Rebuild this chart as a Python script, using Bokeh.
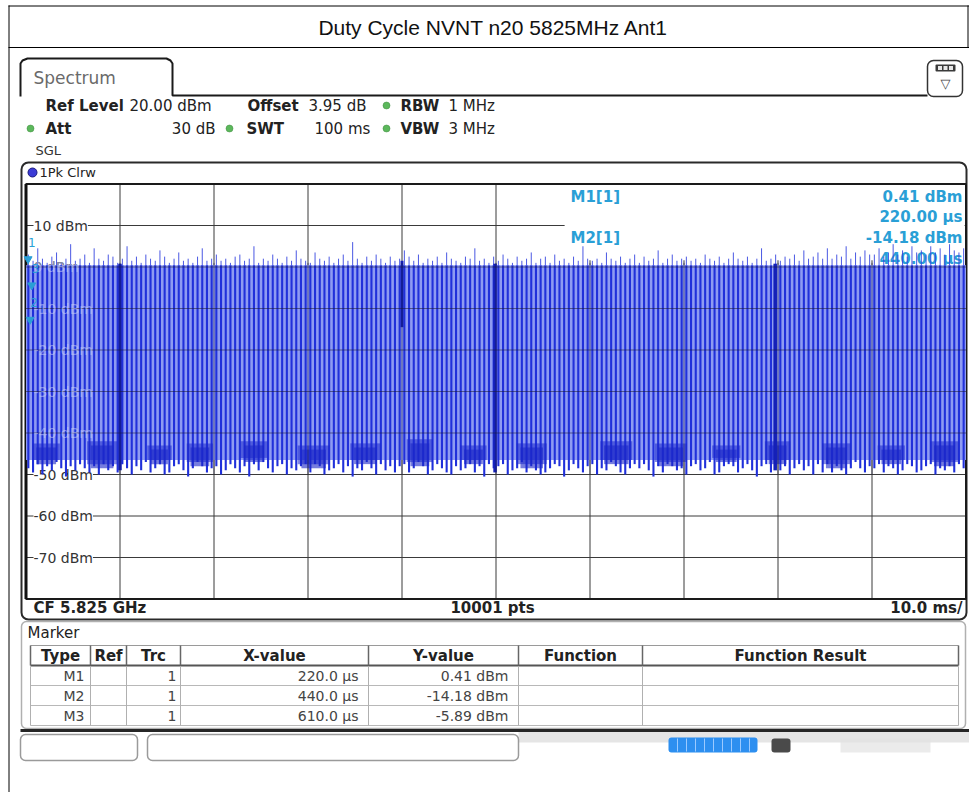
import numpy as np
from bokeh.plotting import figure
from bokeh.models import Range1d
from bokeh.core.properties import value
from bokeh.embed import file_html
from bokeh.resources import INLINE

# ------------------------------------------------------------------ data
title_text = "Duty Cycle NVNT n20 5825MHz Ant1"

x_ticks_ms = [0, 10, 20, 30, 40, 50, 60, 70, 80, 90, 100]
y_ticks_dbm = [20, 10, 0, -10, -20, -30, -40, -50, -60, -70, -80]
y_label_dbm = [10, 0, -10, -20, -30, -40, -50, -60, -70]
covered_label_dbm = [0, -10, -20, -30, -40]

# peak level of each burst (200 bursts over the 100 ms sweep)
pulse_top_dbm = [
    3.0, 1.5, 4.5, 2.0, 1.0, 2.5, 3.5, 1.0, 2.0, 5.5,
    1.5, 2.0, 3.0, 1.0, 4.5, 2.0, 1.5, 3.0, 2.5, 1.0,
    2.0, 5.0, 1.5, 2.5, 1.0, 3.0, 2.0, 1.5, 4.0, 2.5,
    1.0, 2.0, 3.5, 1.5, 2.0, 1.0, 2.5, 4.5, 1.5, 2.0,
    3.0, 1.5, 2.0, 1.0, 2.5, 3.0, 1.5, 2.0, 5.0, 1.0,
    2.0, 1.5, 3.0, 2.0, 1.0, 2.5, 1.5, 4.0, 2.0, 1.5,
    1.0, 3.5, 2.0, 1.5, 2.5, 1.0, 2.0, 3.0, 1.5, 6.0,
    2.0, 1.0, 2.5, 1.5, 3.0, 2.0, 1.0, 2.5, 1.5, 2.0,
    4.0, 2.5, 1.5, 3.0, 1.0, 2.0, 1.5, 2.5, 1.0, 3.5,
    2.0, 1.5, 1.0, 2.5, 2.0, 4.5, 1.5, 2.0, 1.0, 2.5,
    1.5, 3.0, 2.0, 1.0, 2.5, 1.5, 2.0, 3.5, 1.0, 2.0,
    2.5, 1.0, 3.0, 1.5, 2.0, 1.0, 2.5, 1.5, 5.0, 2.0,
    1.5, 2.0, 1.0, 3.5, 2.0, 1.5, 2.5, 1.0, 2.0, 3.0,
    1.0, 2.5, 1.5, 2.0, 4.0, 1.0, 2.0, 3.0, 1.5, 2.0,
    2.5, 1.5, 2.0, 1.0, 3.0, 2.0, 1.5, 2.5, 1.0, 2.0,
    3.5, 2.0, 1.5, 2.5, 1.0, 2.0, 4.5, 1.5, 2.0, 3.0,
    1.5, 2.5, 2.0, 3.0, 1.5, 4.0, 2.0, 2.5, 3.5, 2.0,
    4.5, 2.0, 3.0, 2.5, 5.0, 2.0, 3.5, 2.5, 4.0, 3.0,
    3.0, 4.5, 2.5, 3.5, 5.5, 3.0, 4.0, 2.5, 5.0, 3.5,
    4.0, 3.0, 5.0, 3.5, 4.5, 3.0, 5.5, 4.0, 3.5, 4.5,
]
# lowest level reached between bursts
pulse_bottom_dbm = [
    -48.5, -49.5, -47.5, -50.0, -48.0, -49.0, -47.0, -48.5, -50.5, -48.0,
    -49.0, -47.5, -48.5, -49.5, -48.0, -50.0, -47.5, -49.0, -48.0, -49.5,
    -47.5, -48.5, -50.0, -48.0, -49.0, -47.0, -49.5, -48.5, -47.5, -50.0,
    -49.5, -48.0, -47.5, -49.0, -50.5, -48.5, -47.0, -48.0, -49.5, -48.5,
    -48.0, -50.0, -49.0, -47.5, -48.5, -49.5, -48.0, -50.5, -47.5, -49.0,
    -47.0, -48.5, -49.5, -48.0, -47.5, -50.0, -48.5, -49.0, -48.0, -47.5,
    -49.5, -47.5, -48.0, -50.0, -49.0, -48.5, -47.5, -49.5, -48.0, -50.5,
    -48.5, -49.0, -47.0, -48.5, -50.0, -47.5, -49.0, -48.0, -49.5, -48.0,
    -47.5, -49.5, -48.5, -47.0, -48.0, -50.0, -49.0, -47.5, -48.5, -49.5,
    -50.0, -48.0, -49.0, -48.5, -47.5, -49.5, -48.0, -50.5, -47.5, -48.5,
    -48.0, -47.5, -50.0, -49.0, -48.5, -47.0, -49.5, -48.0, -49.0, -50.0,
    -49.5, -48.5, -47.5, -48.0, -50.5, -49.0, -47.5, -48.5, -49.5, -48.0,
    -47.5, -50.0, -48.5, -49.0, -47.0, -48.0, -49.5, -50.0, -48.5, -47.5,
    -48.5, -47.5, -49.0, -50.5, -48.0, -49.5, -47.5, -48.0, -49.0, -48.5,
    -50.0, -48.0, -47.5, -49.0, -48.5, -47.0, -50.0, -49.5, -48.0, -47.5,
    -48.0, -49.5, -48.5, -47.5, -49.0, -50.5, -48.0, -47.5, -49.5, -48.5,
    -49.0, -48.0, -50.0, -48.5, -47.5, -49.0, -48.0, -50.0, -47.5, -49.5,
    -47.5, -49.5, -48.0, -49.0, -50.0, -48.5, -47.0, -48.5, -49.5, -48.0,
    -48.5, -47.5, -49.5, -48.0, -48.5, -50.0, -49.0, -47.5, -48.0, -49.5,
    -49.0, -48.0, -47.5, -50.0, -48.5, -49.0, -48.0, -49.5, -47.5, -48.5,
]
band_ms = [0.0, 100.0]
band_top_dbm = [0.4, 0.4]
band_bottom_dbm = [-46.5, -46.5]

# missing bursts (dark full-height lines) and a short dip
gap_ms = [10.0, 49.9, 79.7]
gap_top_dbm = [0.8, 0.8, 0.8]
gap_bottom_dbm = [-49.0, -49.5, -49.0]
dip_ms = [40.0]
dip_top_dbm = [1.5]
dip_bottom_dbm = [-14.5]

# noise floor clusters between bursts (two layers give a ragged outline)
blob_start_ms = [0.7, 6.5, 12.9, 17.1, 22.8, 28.9, 34.5, 40.5, 46.2, 52.2,
                 61.1, 66.9, 73.0, 78.6, 84.7, 90.6, 96.2]
blob_end_ms = [3.6, 9.7, 15.5, 19.9, 25.7, 32.3, 37.7, 43.3, 49.0, 55.4,
               64.5, 70.3, 76.0, 81.3, 87.7, 93.5, 99.2]
blob_top_dbm = [-42.5, -42.0, -43.0, -42.5, -42.0, -43.0, -42.5, -41.5, -43.0, -42.5,
                -42.0, -42.5, -43.0, -42.0, -42.5, -43.0, -42.0]
blob_bottom_dbm = [-46.5, -47.5, -46.5, -47.0, -46.0, -47.5, -46.5, -47.0, -46.5, -47.5,
                   -46.5, -47.0, -46.0, -46.5, -47.5, -46.5, -47.0]
blob_core_top_dbm = [-43.5, -43.0, -44.0, -43.5, -43.0, -44.0, -43.5, -42.5, -44.0, -43.5,
                     -43.0, -43.5, -44.0, -43.0, -43.5, -44.0, -43.0]
blob_core_bottom_dbm = [-47.5, -48.5, -47.5, -48.0, -47.0, -48.5, -47.5, -48.0, -47.5, -48.5,
                        -47.5, -48.0, -47.0, -47.5, -48.5, -47.5, -48.0]

marker_names = ["M1", "M2", "M3"]
marker_trace = ["1", "1", "1"]
marker_x_us = [220.0, 440.0, 610.0]
marker_y_dbm = [0.41, -14.18, -5.89]

table_headers = ["Type", "Ref", "Trc", "X-value", "Y-value", "Function", "Function Result"]

# ------------------------------------------------------------------ layout
W, H = 969, 792
OX, OY = 0, 0

GL, GR = 25.5 - OX, 965.5 - OX     # grid frame, canvas px
GT, GB = 183.5 - OY, 598.5 - OY
ppm = (GR - GL) / 100.0
ppd = (GB - GT) / 100.0

p = figure(width=W, height=H, x_range=Range1d(0, W), y_range=Range1d(H, 0),
           output_backend="svg", toolbar_location=None, tools="",
           x_axis_location=None, y_axis_location=None, min_border=0,
           outline_line_color=None, background_fill_color="white",
           border_fill_color="white")
p.grid.grid_line_color = None
p.grid.visible = False
p.extra_x_ranges = {"ms": Range1d(-GL / ppm, 100 + (W - GR) / ppm)}
p.extra_y_ranges = {"dbm": Range1d(-80 - (H - GB) / ppd, 20 + GT / ppd)}
S = dict(x_range_name="ms", y_range_name="dbm")

DJ = value("DejaVu Sans")


def T(x, y, s, size=14, bold=False, color="#222222", align="left", font=DJ):
    p.text(x=[x - OX], y=[y - OY], text=[s], text_font=font,
           text_font_size=f"{size}px", text_font_style="bold" if bold else "normal",
           text_color=color, text_align=align, text_baseline="middle")


def L(xs, ys, color="#222222", width=1.0, alpha=1.0):
    p.line(x=[v - OX for v in xs], y=[v - OY for v in ys], line_color=color,
           line_width=width, line_alpha=alpha)


def Q(l, r, t, b, fill=None, line=None, width=1.0, radius=0, alpha=1.0):
    p.quad(left=[l - OX], right=[r - OX], top=[t - OY], bottom=[b - OY],
           fill_color=fill, line_color=line, line_width=width,
           border_radius=radius, fill_alpha=alpha)


# outer document frame and title
L([8.5, 8.5], [5, 792], "#000000", 1)
L([8, 969], [5.5, 5.5], "#000000", 1)
L([8, 969], [47, 47], "#000000", 1)
L([967.5, 967.5], [5, 47], "#000000", 1)
T(493, 27, title_text, size=21, color="#111111", align="center",
  font=value("Liberation Sans"))

# Spectrum tab
L([20, 20, 22, 27, 166, 170, 172, 172, 927],
  [96, 63, 60, 58, 58, 60, 63, 95, 95], "#1a1a1a", 2)
T(33, 77, "Spectrum", size=17, color="#6a6a6a")
Q(927, 962, 60, 96, fill="white", line="#333333", width=1.5, radius=6)
Q(935, 955, 64, 71, fill="#3a3a3a", line=None, radius=1)
for bx in (937.5, 943, 948.5):
    Q(bx, bx + 4, 65.5, 69.5, fill="#e8e8e8", line=None)
T(945, 83, "▽", size=13, color="#444444", align="center")

# header settings
T(45, 105, "Ref Level", 15, True)
T(129, 105, "20.00 dBm", 15)
T(247, 105, "Offset", 15, True)
T(308, 105, "3.95 dB", 15)
T(400, 105, "RBW", 15, True)
T(448, 105, "1 MHz", 15)
T(45, 128, "Att", 15, True)
T(215, 128, "30 dB", 15, align="right")
T(246, 128, "SWT", 15, True)
T(314, 128, "100 ms", 15)
T(400, 128, "VBW", 15, True)
T(448, 128, "3 MHz", 15)
p.scatter(x=[386 - OX, 30 - OX, 229 - OX, 386 - OX], y=[105 - OY, 128 - OY, 128 - OY, 128 - OY],
          marker="circle", size=7, fill_color="#5cb85c", line_color="#3d8b3d", line_width=0.5)
T(35, 150, "SGL", 13, color="#333333")

# graph box
Q(21, 966, 162, 619, fill=None, line="#2a2a2a", width=2, radius=7)
p.scatter(x=[32 - OX], y=[172 - OY], marker="circle", size=9,
          fill_color="#3b3bd6", line_color="#1a1a80", line_width=1)
T(39, 172, "1Pk Clrw", 13, color="#222222")

# grid
n = len(x_ticks_ms)
m = len(y_ticks_dbm)


def draw_grid(alpha):
    p.segment(x0=x_ticks_ms, x1=x_ticks_ms, y0=[-80] * n, y1=[20] * n,
              line_color="#3a3a3a", line_width=1, line_alpha=alpha, **S)
    p.segment(x0=[0] * m, x1=[100] * m, y0=y_ticks_dbm, y1=y_ticks_dbm,
              line_color="#3a3a3a", line_width=1, line_alpha=alpha, **S)


draw_grid(1.0)
p.quad(left=[0], right=[100], top=[20], bottom=[-80], fill_color=None,
       line_color="#1a1a1a", line_width=2, **S)
p.segment(x0=[0], x1=[0], y0=[-80], y1=[20], line_color="#111111", line_width=3, **S)

# marker readout box (covers grid)
p.quad(left=[57.3], right=[99.85], top=[19.75], bottom=[1.6], fill_color="white",
       line_color=None, **S)
CY = "#2a9fd6"
T(570, 196, f"{marker_names[0]}[{marker_trace[0]}]", 15, True, CY)
T(962, 196, f"{marker_y_dbm[0]:.2f} dBm", 15, True, CY, "right")
T(962, 216, f"{marker_x_us[0]:.2f} µs", 15, True, CY, "right")
T(570, 237, f"{marker_names[1]}[{marker_trace[1]}]", 15, True, CY)
T(962, 237, f"{marker_y_dbm[1]:.2f} dBm", 15, True, CY, "right")
T(962, 258, f"{marker_x_us[1]:.2f} µs", 15, True, CY, "right")

# level labels
lx = (33 - OX - GL) / ppm
p.text(x=[lx] * len(y_label_dbm), y=y_label_dbm, text=[f"{v} dBm" for v in y_label_dbm],
       text_font=DJ, text_font_size="14px", text_color="#333333",
       text_baseline="middle", text_align="left", background_fill_color="white", **S)

# trace
t_ms = np.linspace(0.25, 99.75, len(pulse_top_dbm))
tops = np.array(pulse_top_dbm)
bots = np.array(pulse_bottom_dbm)
p.varea(x=band_ms, y1=band_bottom_dbm, y2=band_top_dbm, fill_color="#8e9bf2", **S)
p.segment(x0=t_ms, x1=t_ms, y0=bots, y1=np.minimum(tops, band_top_dbm[0]),
          line_color="#2030da", line_width=2.1, **S)
p.segment(x0=t_ms, x1=t_ms, y0=[band_top_dbm[0]] * len(t_ms), y1=tops,
          line_color="#3545e0", line_width=0.9, **S)
p.quad(left=blob_start_ms, right=blob_end_ms, top=blob_top_dbm, bottom=blob_bottom_dbm,
       fill_color="#1c28cc", fill_alpha=0.55, line_color=None, **S)
p.quad(left=[a + 0.4 for a in blob_start_ms], right=[b - 0.4 for b in blob_end_ms],
       top=blob_core_top_dbm, bottom=blob_core_bottom_dbm,
       fill_color="#1a26c8", fill_alpha=0.6, line_color=None, **S)
p.segment(x0=gap_ms, x1=gap_ms, y0=gap_bottom_dbm, y1=gap_top_dbm,
          line_color="#1420b8", line_width=3.5, **S)
p.segment(x0=dip_ms, x1=dip_ms, y0=dip_bottom_dbm, y1=dip_top_dbm,
          line_color="#1420b8", line_width=3, **S)

# grid and level labels showing through the trace
p.segment(x0=x_ticks_ms[1:-1], x1=x_ticks_ms[1:-1], y0=[-50] * (n - 2), y1=[1] * (n - 2),
          line_color="#1a1a3a", line_width=1, line_alpha=0.55, **S)
p.segment(x0=[0] * len(covered_label_dbm), x1=[100] * len(covered_label_dbm),
          y0=covered_label_dbm, y1=covered_label_dbm,
          line_color="#1a1a3a", line_width=1, line_alpha=0.55, **S)
p.text(x=[lx] * len(covered_label_dbm), y=covered_label_dbm,
       text=[f"{v} dBm" for v in covered_label_dbm],
       text_font=DJ, text_font_size="14px", text_color="#c9cff8", text_alpha=0.55,
       text_baseline="middle", text_align="left", **S)

# markers
mx = [v / 1000.0 for v in marker_x_us]
p.scatter(x=mx, y=[v + 1.5 for v in marker_y_dbm], marker="inverted_triangle", size=8,
          fill_color=CY, line_color=CY, **S)
p.text(x=mx, y=[v + 4.5 for v in marker_y_dbm], text=[s[1] for s in marker_names],
       text_font=DJ, text_font_size="12px", text_color=CY, text_align="left",
       text_baseline="bottom", **S)

# bottom info row
T(33, 607, "CF 5.825 GHz", 15, True)
T(492, 607, f"{len(pulse_top_dbm) * 50 + 1} pts", 15, True, align="center")
T(962, 607, "10.0 ms/", 15, True, align="right")

# marker table
Q(21, 965, 621, 728, fill=None, line="#b0b0b0", width=1.5, radius=5)
T(27, 632, "Marker", 15, color="#222222")
cols = [30, 90, 126, 180, 368, 518, 642, 958]
rows = [645, 665, 685, 705, 725]
L([30, 958], [645, 645], "#9a9a9a", 1)
L([30, 958], [665, 665], "#555555", 2)
for yy in rows[2:]:
    L([30, 958], [yy, yy], "#b8b8b8", 1)
for cx in cols:
    L([cx, cx], [645, 665], "#666666", 1.5)
    L([cx, cx], [666, 725], "#b0b0b0", 1)
for i, h in enumerate(table_headers):
    T((cols[i] + cols[i + 1]) / 2, 655, h, 15, True, "#222222", "center")
for r in range(len(marker_names)):
    yy = 675 + 20 * r
    T(84, yy, marker_names[r], 14, color="#444444", align="right")
    T(176, yy, marker_trace[r], 14, color="#444444", align="right")
    T(358, yy, f"{marker_x_us[r]:.1f} µs", 14, color="#444444", align="right")
    T(508, yy, f"{marker_y_dbm[r]:.2f} dBm", 14, color="#444444", align="right")

# status bar
L([20, 969], [730, 730], "#262626", 3)
Q(518, 969, 731.5, 742, fill="#cfcfcf", line=None, alpha=0.55)
Q(20, 137, 734, 760, fill="white", line="#9a9a9a", width=1.5, radius=5)
Q(147, 518, 734, 760, fill="white", line="#9a9a9a", width=1.5, radius=5)
Q(668, 757, 737, 752, fill="#2d8ff0", line=None, radius=3)
for sx in range(677, 757, 9):
    L([sx, sx], [738, 751], "#9ccaff", 1)
Q(771, 790, 738, 752, fill="#4a4a4a", line=None, radius=3)
Q(840, 930, 738, 752, fill="#e2e2e2", line=None, alpha=0.7)

open("out.html", "w").write(file_html(p, INLINE))
